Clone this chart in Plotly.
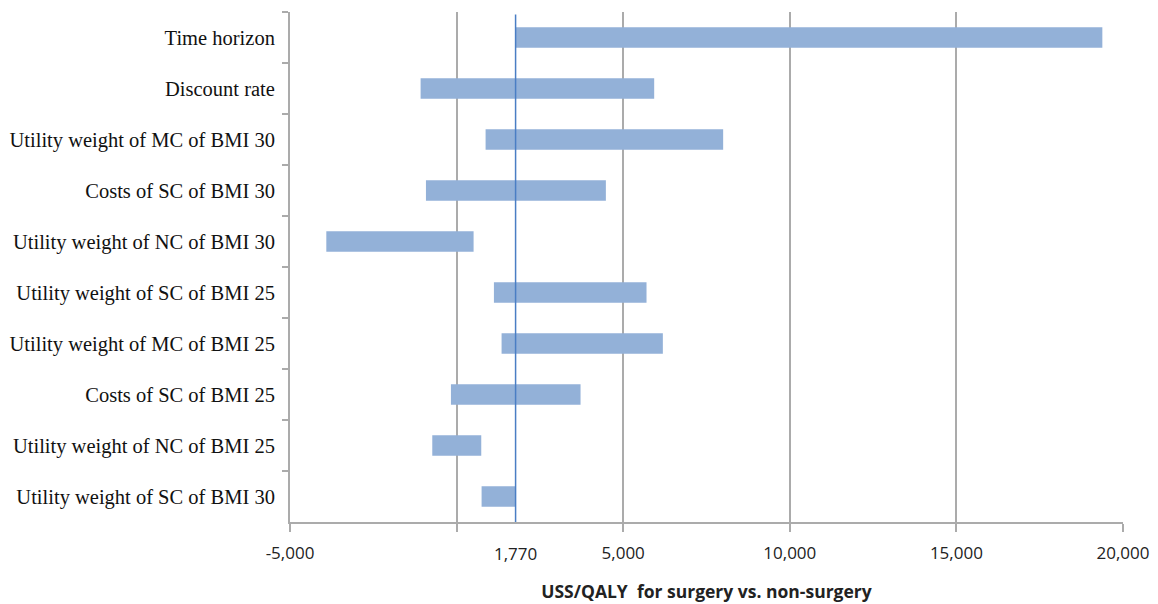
import plotly.graph_objects as go

categories = [
    "Time horizon",
    "Discount rate",
    "Utility weight of MC of BMI 30",
    "Costs of SC of BMI 30",
    "Utility weight of NC of BMI 30",
    "Utility weight of SC of BMI 25",
    "Utility weight of MC of BMI 25",
    "Costs of SC of BMI 25",
    "Utility weight of NC of BMI 25",
    "Utility weight of SC of BMI 30",
]
low_values = [1770, -1080, 870, -920, -3910, 1120, 1350, -170, -730, 750]
high_values = [19380, 5930, 8000, 4480, 510, 5700, 6190, 3720, 740, 1770]
base_case = 1770

tick_vals = [-5000, 0, 5000, 10000, 15000, 20000]
tick_text = ["-5,000", "", "5,000", "10,000", "15,000", "20,000"]

grey = "#ABABAB"
sans = "Open Sans, Liberation Sans, sans-serif"

fig = go.Figure()
fig.add_trace(go.Bar(
    y=categories,
    x=[h - l for l, h in zip(low_values, high_values)],
    base=low_values,
    orientation="h",
    width=0.4,
    marker=dict(color="#93B1D8", line=dict(width=0)),
    showlegend=False,
))

fig.add_shape(type="line", x0=base_case, x1=base_case, y0=0, y1=0.995,
              xref="x", yref="paper", line=dict(color="#4A7EC4", width=1.5))

fig.add_annotation(x=base_case, y=0, xref="x", yref="paper", yshift=-18,
                   text="1,770", showarrow=False, yanchor="top",
                   font=dict(family=sans, size=17, color="#222"))

fig.update_layout(
    width=1158, height=604,
    margin=dict(l=282, r=43, t=4, b=90, autoexpand=False),
    plot_bgcolor="white", paper_bgcolor="white",
    xaxis=dict(
        range=[-5000, 20000],
        tickvals=tick_vals, ticktext=tick_text,
        automargin=False,
        showgrid=True, gridcolor=grey, gridwidth=2,
        zeroline=False,
        showline=True, linecolor=grey, linewidth=2,
        ticks="outside", ticklen=8, tickcolor=grey, tickwidth=1.5,
        ticklabelstandoff=7,
        tickfont=dict(family=sans, size=17, color="#222"),
        title=dict(text="USS/QALY  for surgery vs. non-surgery", standoff=22,
                   font=dict(family=sans, size=17.5, color="#222", weight="bold")),
    ),
    yaxis=dict(
        categoryorder="array", categoryarray=categories,
        autorange="reversed",
        automargin=False,
        showgrid=False, zeroline=False,
        showline=True, linecolor=grey, linewidth=2,
        ticks="outside", ticklen=6, tickcolor=grey, tickwidth=1.5,
        tickson="boundaries",
        ticklabelstandoff=9,
        tickfont=dict(family="Liberation Serif, Times New Roman, serif", size=20.5, color="#111"),
    ),
)

fig.write_html("out.html")
